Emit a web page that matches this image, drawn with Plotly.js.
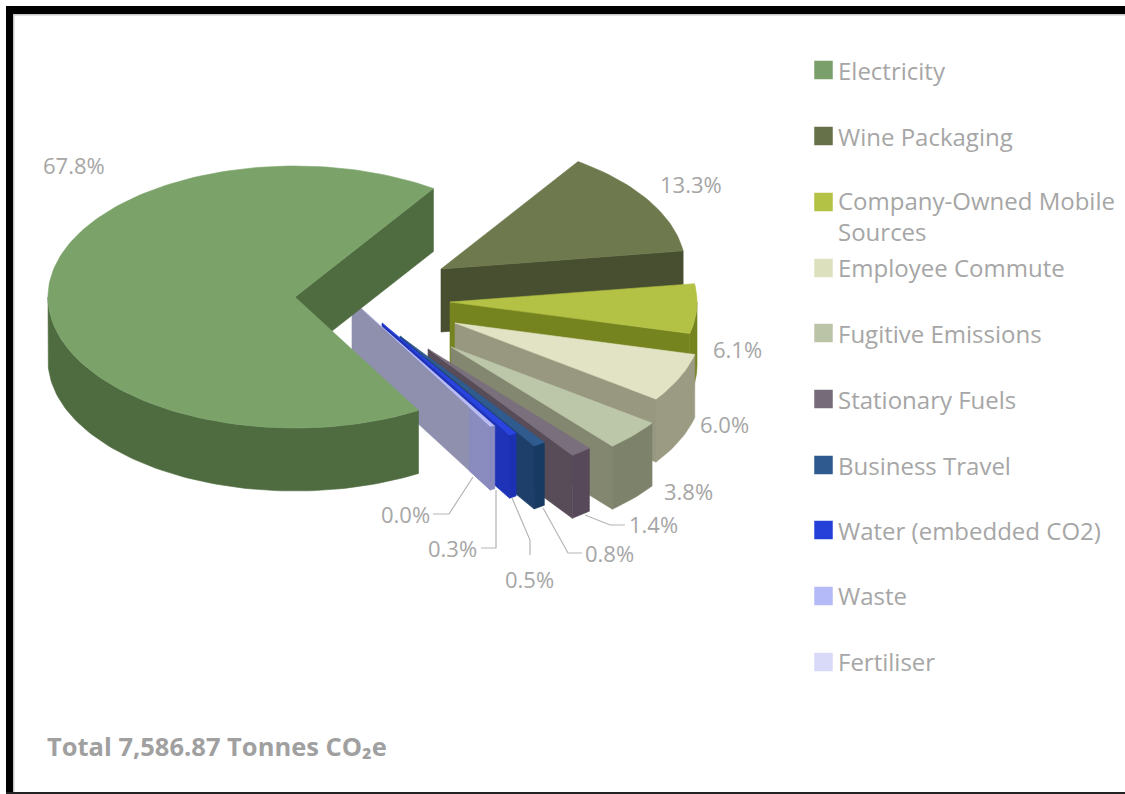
<!DOCTYPE html>
<html><head><meta charset="utf-8">
<script src="https://cdn.plot.ly/plotly-3.0.1.min.js"></script>
<style>html,body{margin:0;padding:0;background:#fff}#chart{width:1125px;height:794px}</style>
</head><body><div id="chart"></div>
<script>
// ---- data ----
const categories = ["Electricity","Wine Packaging","Company-Owned Mobile<br>Sources","Employee Commute","Fugitive Emissions","Stationary Fuels","Business Travel","Water (embedded CO2)","Waste","Fertiliser"];
const shares = [67.8,13.3,6.1,6.0,3.8,1.4,0.8,0.5,0.3,0.0];
const totalNote = "Total 7,586.87 Tonnes CO₂e";

// ---- styles ----
const topColors   = ["#7ba369","#6e7a4e","#b3c144","#e2e3c4","#bcc6a8","#7a6f7c","#2f5b8f","#2a44e0","#b9bcf2","#d8daf8"];
const sideColors  = ["#4f6b40","#474f30","#76841f","#989881","#83876f","#574c58","#1f3f6b","#1f33b8","#8f8fae","#8f8fae"];
const rimColors   = ["#4f6b40","#474f30","#76841f","#9b9b84","#7d836b","#57495a","#173a62","#1c30b4","#8a8cc0","#8a8cc0"];
const swatchColors= ["#7a9f6a","#667049","#b3c144","#dde0bd","#bcc4a8","#766b78","#2f5a8f","#2440d8","#b4baf8","#d8daf8"];

// ---- pie geometry ----
const RX = 247, RY = 131, DEPTH = 63, START_DEG = 300.0;
const hubX = [295,441,450,455,451,428,400,382,352,352];
const hubY = [297,269,302,323,347,349,336,323,300,300];
const radiusScale = [1,0.99,1,1,1,1,1,1,1.12,1.12];
const litTail = [0,0,0,0,0,0,0,0,0.15,0];   // share of a cut face rendered in the rim tone

const swatchY = [70,136,202,268,333,399,465,530,596,662];
const textY   = [70,136,216,267,333,399,465,530,595,661];

const traces = [];
function poly(xs, ys, color, w){
  traces.push({type:"scatter",mode:"lines",x:xs.concat(xs[0]),y:ys.concat(ys[0]),fill:"toself",
    fillcolor:color,line:{color:color,width:w===undefined?0.6:w},hoverinfo:"skip",showlegend:false});
}
function arc(i,a0,a1){
  const n = Math.max(2,Math.ceil(Math.abs(a1-a0)/1.5)), xs=[], ys=[];
  for(let k=0;k<=n;k++){
    const t=(a0+(a1-a0)*k/n)*Math.PI/180;
    xs.push(hubX[i]+RX*radiusScale[i]*Math.cos(t));
    ys.push(hubY[i]-RY*radiusScale[i]*Math.sin(t));
  }
  return [xs,ys];
}
const startA=[], endA=[];
let cur=START_DEG;
shares.forEach((v,i)=>{startA[i]=cur; cur-=v*3.6; endA[i]=cur;});

function cutFace(i,ang,color){
  const [ax,ay]=arc(i,ang,ang);
  const ox=ax[0], oy=ay[0], hx=hubX[i], hy=hubY[i];
  poly([hx,ox,ox,hx],[hy,oy,oy+DEPTH,hy+DEPTH],color);
  if(litTail[i]>0){
    const mx=ox+(hx-ox)*litTail[i], my=oy+(hy-oy)*litTail[i];
    poly([mx,ox,ox,mx],[my,oy,oy+DEPTH,my+DEPTH],rimColors[i]);
  }
}
function rimWall(i,a0,a1,color){
  const [xs,ys]=arc(i,a0,a1);
  const bx=xs.slice().reverse(), by=ys.slice().reverse().map(v=>v+DEPTH);
  poly(xs.concat(bx),ys.concat(by),color);
}
function topFace(i){
  const [xs,ys]=arc(i,startA[i],endA[i]);
  poly([hubX[i]].concat(xs),[hubY[i]].concat(ys),topColors[i],i===8?0:0.6);
}

for(let i=1;i<=8;i++){
  cutFace(i,endA[i],sideColors[i]);
  const hi=Math.min(startA[i],0), lo=endA[i];
  if(hi>lo) rimWall(i,hi,lo,rimColors[i]);
  topFace(i);
}
cutFace(0,endA[0],sideColors[0]);
rimWall(0,startA[0],180,rimColors[0]);
topFace(0);

traces.push({type:"scatter",mode:"markers",x:swatchY.map(()=>823.5),y:swatchY,
  marker:{symbol:"square",size:18.5,color:swatchColors,line:{width:0}},hoverinfo:"skip",showlegend:false});

const GREY="#a6a6a6", FONT='"Open Sans", "Noto Sans", sans-serif';
const annotations=[];
categories.forEach((c,i)=>annotations.push({x:836,y:textY[i],xref:"x",yref:"y",text:c,showarrow:false,
  xanchor:"left",yanchor:"middle",align:"left",font:{family:FONT,size:24,color:GREY}}));

const labelX=[74,691,737,724,688,653,609,529,452,405];
const labelY=[165,184,349,424,491,524,553,579,548,514];
shares.forEach((v,i)=>annotations.push({x:labelX[i],y:labelY[i],xref:"x",yref:"y",text:v.toFixed(1)+"%",showarrow:false,
  xanchor:"center",yanchor:"middle",font:{family:FONT,size:22,color:GREY}}));
annotations.push({x:45,y:746,xref:"x",yref:"y",text:"<b>"+totalNote+"</b>",showarrow:false,xanchor:"left",yanchor:"middle",
  font:{family:FONT,size:25.5,color:"#a0a0a0"}});

const leaders=["M433 514H449L473 477","M481 548H496V490","M530 555V540L512 498","M582 553H568L543 508","M625 525H610L585 515"];
const shapes=leaders.map(p=>({type:"path",path:p,xref:"x",yref:"y",line:{color:"#b5b5b5",width:1.2}}));
shapes.push({type:"rect",xref:"x",yref:"y",x0:6,x1:14.5,y0:6,y1:794,fillcolor:"#c8c8c8",line:{width:0}});
shapes.push({type:"rect",xref:"x",yref:"y",x0:6,x1:1125,y0:6,y1:15.5,fillcolor:"#c8c8c8",line:{width:0}});
shapes.push({type:"rect",xref:"x",yref:"y",x0:6,x1:13,y0:6,y1:794,fillcolor:"#000",line:{width:0}});
shapes.push({type:"rect",xref:"x",yref:"y",x0:6,x1:1125,y0:6,y1:14,fillcolor:"#000",line:{width:0}});
shapes.push({type:"rect",xref:"x",yref:"y",x0:6,x1:1125,y0:792,y1:794,fillcolor:"#222",line:{width:0}});

Plotly.newPlot("chart",traces,{
  width:1125,height:794,margin:{l:0,r:0,t:0,b:0},paper_bgcolor:"#fff",plot_bgcolor:"#fff",showlegend:false,
  xaxis:{range:[0,1125],visible:false,fixedrange:true},
  yaxis:{range:[794,0],visible:false,fixedrange:true},
  annotations,shapes
},{displayModeBar:false,staticPlot:true});
</script></body></html>
